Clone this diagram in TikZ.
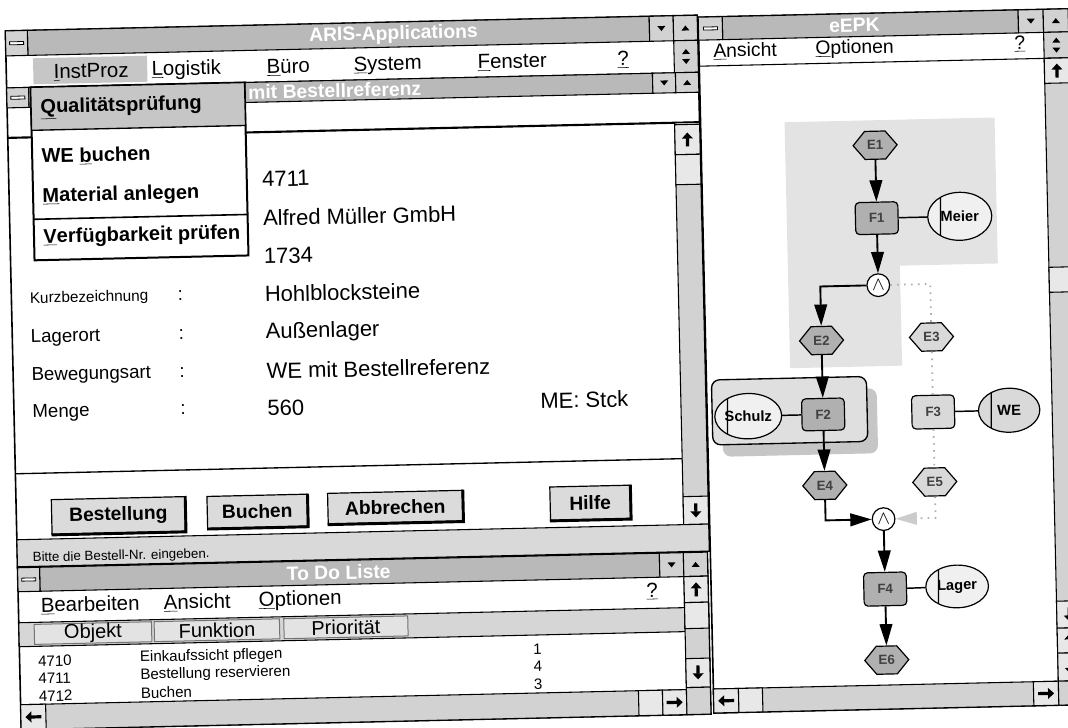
\documentclass[tikz,border=0pt]{standalone}
\usepackage{fontspec}
\setmainfont{Liberation Sans}
\usetikzlibrary{arrows.meta,shapes.geometric,shapes.symbols}

\newcommand{\fsz}[1]{\fontsize{#1}{#1}\selectfont}
\newcommand{\mn}[1]{\underline{#1}}
% small window-button glyphs
\newcommand{\tridown}[2]{\fill (#1-4,#2-2.5) -- (#1+4,#2-2.5) -- (#1,#2+2.5) -- cycle;}
\newcommand{\triup}[2]{\fill (#1-4,#2+2.5) -- (#1+4,#2+2.5) -- (#1,#2-2.5) -- cycle;}
\newcommand{\sysdash}[2]{\draw[fill=white,line width=0.6pt] (#1-7,#2-1.5) rectangle (#1+7,#2+1.5);}
\newcommand{\scrup}[2]{\draw[sarrow] (#1,#2+7) -- (#1,#2-7);}
\newcommand{\scrdown}[2]{\draw[sarrow] (#1,#2-7) -- (#1,#2+7);}
\newcommand{\scrleft}[2]{\draw[sarrow] (#1+8,#2) -- (#1-8,#2);}
\newcommand{\scrright}[2]{\draw[sarrow] (#1-8,#2) -- (#1+8,#2);}

\tikzset{every picture/.style={line width=0.75pt}}
\tikzset{
  win/.style={draw, line width=1.2pt, fill=white},
  titlebar/.style={draw, line width=0.8pt, fill=gray!55},
  chromebox/.style={draw, line width=0.8pt, fill=gray!35},
  wtext/.style={text=white, font=\bfseries\fsz{14.5}, inner sep=0pt},
  menuitem/.style={font=\fsz{15.3}, inner sep=0pt, anchor=west},
  popitem/.style={font=\bfseries\fsz{15}, inner sep=0pt, anchor=west},
  fieldlbl/.style={font=\fsz{14}, inner sep=0pt, anchor=west},
  fieldval/.style={font=\fsz{16.5}, inner sep=0pt, anchor=west},
  btn/.style={draw, line width=0.9pt, fill=gray!28, font=\bfseries\fsz{14.4}, inner sep=0pt},
  colhead/.style={draw=black!55, fill=gray!22, font=\fsz{15}, inner sep=0pt, minimum height=15pt},
  listrow/.style={font=\fsz{11.3}, inner sep=0pt, anchor=west},
  sarrow/.style={line width=2.4pt, -{Triangle[length=4.5pt,width=8pt]}},
  event/.style={signal, signal to=east and west, signal pointer angle=100, draw, line width=0.9pt,
    minimum width=33pt, minimum height=21pt, inner sep=0pt, font=\bfseries\fsz{10}, text=black!75},
  darkev/.style={event, fill=gray!62},
  lightev/.style={event, fill=gray!30},
  func/.style={draw, line width=0.9pt, rounded corners=3pt, minimum width=32pt, minimum height=24pt,
    inner sep=0pt, font=\bfseries\fsz{10}, text=black!75},
  orgunit/.style={ellipse, draw, line width=0.9pt, inner sep=0pt, font=\bfseries\fsz{11},
    path picture={\draw[line width=0.9pt] ([xshift=9.75pt]path picture bounding box.north west)
      -- ([xshift=9.75pt]path picture bounding box.south west);}},
  andop/.style={circle, draw, line width=0.9pt, fill=white, minimum size=17pt, inner sep=0pt, font=\fsz{14}},
  flow/.style={line width=1.4pt, -{Triangle[length=16pt,width=9.5pt]}},
  orgline/.style={line width=1.1pt},
  vague/.style={draw=gray!65, line width=1.3pt, dash pattern=on 1.2pt off 4pt},
}

\begin{document}
\begin{tikzpicture}[x=0.75pt,y=0.75pt,yscale=-1,xscale=1]
\useasboundingbox (0,0) rectangle (1068,728);
\begin{scope}[rotate around={-1.3:(534,364)}, every node/.append style={rotate=1.3}]

%Window: ARIS-Applications
\draw[win] (13,19) rectangle (705,555);
\draw[titlebar] (35,19) rectangle (657,44);
\draw[chromebox] (13,19) rectangle (35,44); \sysdash{24}{31.5}
\draw[chromebox] (657,19) rectangle (681,44); \tridown{669}{31.5}
\draw[chromebox] (681,19) rectangle (705,44); \triup{693}{31.5}
\node[wtext] (arisTitle) at (401,31.5) {ARIS-Applications};
% menu bar
\draw[chromebox] (681,44) rectangle (705,76); \triup{693}{55} \tridown{693}{65}
\draw[line width=0.8pt] (13,76) -- (681,76);
\fill[gray!45] (40,47) rectangle (154,73);
\node[menuitem] (mInst) at (60,62) {\mn{I}nstProz};
\node[menuitem] (mLog) at (158,62) {\mn{L}ogistik};
\node[menuitem] (mBuero) at (273,62) {\mn{B}üro};
\node[menuitem] (mSys) at (360,62) {\mn{S}ystem};
\node[menuitem] (mFen) at (484,62) {\mn{F}enster};
\node[menuitem, anchor=center] (mHelp) at (630,62) {\mn{?}};
% inner window title
\draw[chromebox] (13,76) rectangle (35,96); \sysdash{24}{86}
\draw[titlebar] (35,76) rectangle (659,96);
\draw[chromebox] (659,76) rectangle (682,96); \tridown{670.5}{86}
\draw[chromebox] (682,76) rectangle (705,96); \triup{693.5}{86}
\node[wtext, anchor=west] (subTitle) at (254,86) {mit Bestellreferenz};
\draw[line width=1.6pt] (13,126) -- (705,126);
% scrollbar
\draw[chromebox] (680,126) rectangle (705,528);
\draw[chromebox, fill=gray!18] (680,128) rectangle (705,158); \scrup{692.5}{143}
\draw[chromebox, fill=gray!18] (680,158) rectangle (705,188);
\draw[chromebox, fill=gray!18] (680,500) rectangle (705,528); \scrdown{692.5}{514}
\draw[line width=1pt] (13,462) -- (680,462);

% Text Node: fields
\node[fieldval] (vNr) at (266,173) {4711};
\node[fieldval] (vLief) at (266,212) {Alfred Müller GmbH};
\node[fieldval] (vMat) at (266,250) {1734};
\node[fieldlbl, font=\fsz{11.5}] (lKurz) at (31,288) {Kurzbezeichnung};
\node[fieldlbl] (cKurz) at (179,288) {:};
\node[fieldval] (vKurz) at (266,288) {Hohlblocksteine};
\node[fieldlbl] (lLager) at (31,327) {Lagerort};
\node[fieldlbl] (cLager) at (179,327) {:};
\node[fieldval] (vLager) at (266,327) {Außenlager};
\node[fieldlbl] (lBew) at (31,365) {Bewegungsart};
\node[fieldlbl] (cBew) at (179,365) {:};
\node[fieldval] (vBew) at (266,365) {WE mit Bestellreferenz};
\node[fieldlbl] (lMenge) at (31,402) {Menge};
\node[fieldlbl] (cMenge) at (179,402) {:};
\node[fieldval] (vMenge) at (266,402) {560};
\node[fieldval] (vME) at (539,401) {ME: Stck};

% buttons
\node[btn, minimum width=100pt, minimum height=26pt] (bBest) at (115,506) {Bestellung};
\node[btn, minimum width=75pt, minimum height=24pt] (bBuch) at (254,505) {Buchen};
\node[btn, minimum width=101pt, minimum height=23pt] (bAbbr) at (392,504) {Abbrechen};
\node[btn, minimum width=60pt, minimum height=25pt] (bHilfe) at (587,504) {Hilfe};
\foreach \b in {bBest,bBuch,bAbbr,bHilfe}
  \draw[line width=2.2pt] (\b.south west) -- (\b.south east) -- (\b.north east);

% status bar
\draw[chromebox, fill=gray!30] (13,528) rectangle (705,555);
\node[font=\fsz{10}, inner sep=0pt, anchor=west] (status) at (28,547) {Bitte die Bestell-Nr. eingeben.};

% pull-down menu
\draw[line width=1.5pt, fill=white] (37,76) rectangle (251,249);
\draw[line width=1pt, fill=gray!45] (37,76) rectangle (251,119);
\draw[line width=1.2pt] (37,208) -- (251,208);
\node[popitem] (pQual) at (46,98) {\mn{Q}ualitätsprüfung};
\node[popitem] (pWE) at (46,146) {WE \mn{b}uchen};
\node[popitem] (pMat) at (46,186) {\mn{M}aterial anlegen};
\node[popitem] (pVerf) at (46,227) {\mn{V}erfügbarkeit prüfen};

%Window: To Do Liste
\draw[win] (13,556) rectangle (703,718);
\draw[titlebar] (35,556) rectangle (655,580);
\draw[chromebox] (13,556) rectangle (35,580); \sysdash{24}{568}
\draw[chromebox] (655,556) rectangle (679,580); \tridown{667}{568}
\draw[chromebox] (679,556) rectangle (703,580); \triup{691}{568}
\node[wtext] (todoTitle) at (334,568) {To Do Liste};
\node[menuitem] (tBearb) at (35,595) {\mn{B}earbeiten};
\node[menuitem] (tAns) at (158,595) {\mn{A}nsicht};
\node[menuitem] (tOpt) at (253,595) {\mn{O}ptionen};
\node[menuitem, anchor=center] (tHelp) at (647,594) {\mn{?}};
\draw[chromebox, fill=gray!32] (13,611) rectangle (679,635);
\node[colhead, minimum width=88pt] (hObj) at (87,623) {Objekt};
\node[colhead, minimum width=94pt] (hFunk) at (211,623) {Funktion};
\node[colhead, minimum width=93pt] (hPrio) at (340,623) {Priorität};
% list rows
\node[listrow] (o1) at (31,650) {4710};
\node[listrow] (f1) at (133,649) {Einkaufssicht pflegen};
\node[listrow, anchor=center] (p1) at (531,649) {1};
\node[listrow] (o2) at (31,667.5) {4711};
\node[listrow] (f2) at (133,666.5) {Bestellung reservieren};
\node[listrow, anchor=center] (p2) at (531,666.5) {4};
\node[listrow] (o3) at (31,685) {4712};
\node[listrow] (f3) at (133,684) {Buchen};
\node[listrow, anchor=center] (p3) at (531,684) {3};
% scrollbars
\draw[chromebox] (679,580) rectangle (703,691);
\draw[chromebox, fill=gray!18] (679,580) rectangle (703,606); \scrup{691}{593}
\draw[chromebox, fill=gray!18] (679,606) rectangle (703,632);
\draw[chromebox, fill=gray!18] (679,662) rectangle (703,691); \scrdown{691}{676}
\draw[chromebox] (13,693) rectangle (679,718);
\draw[chromebox, fill=gray!18] (13,693) rectangle (38,718); \scrleft{25.5}{705.5}
\draw[chromebox, fill=gray!18] (631,693) rectangle (655,718);
\draw[chromebox, fill=gray!18] (655,693) rectangle (679,718); \scrright{667}{705.5}
\draw[chromebox] (679,691) rectangle (703,718);

%Window: eEPK
\draw[win] (706,21) rectangle (1076,717);
\draw[titlebar] (730,21) rectangle (1026,44);
\draw[chromebox] (706,21) rectangle (730,44); \sysdash{718}{32.5}
\draw[chromebox] (1026,21) rectangle (1051,44); \tridown{1038.5}{32.5}
\draw[chromebox] (1051,21) rectangle (1076,44); \triup{1063.5}{32.5}
\node[wtext] (epkTitle) at (862,32.5) {eEPK};
\draw[chromebox] (1051,44) rectangle (1076,70); \triup{1063.5}{52} \tridown{1063.5}{62}
\draw[line width=0.8pt] (706,70) -- (1051,70);
\node[menuitem, font=\fsz{14.5}] (eAns) at (720,56) {\mn{A}nsicht};
\node[menuitem, font=\fsz{14.5}] (eOpt) at (822,56) {\mn{O}ptionen};
\node[menuitem, font=\fsz{14.5}, anchor=center] (eHelp) at (1027,55) {\mn{?}};
\draw[chromebox] (1051,70) rectangle (1076,693);
\draw[chromebox, fill=gray!18] (1051,70) rectangle (1076,95); \scrup{1063.5}{82.5}
\draw[chromebox, fill=gray!18] (1051,279) rectangle (1076,304);
\draw[chromebox, fill=gray!18] (1051,613) rectangle (1076,640); \scrdown{1063.5}{626.5}
\draw[chromebox, fill=gray!18] (1051,640) rectangle (1076,665); \scrup{1063.5}{652.5}
\draw[chromebox, fill=gray!18] (1051,665) rectangle (1076,693); \scrdown{1063.5}{679}
\draw[chromebox] (706,693) rectangle (1051,717);
\draw[chromebox, fill=gray!18] (706,693) rectangle (731,717); \scrleft{718.5}{705}
\draw[chromebox, fill=gray!18] (731,693) rectangle (755,717);
\draw[chromebox, fill=gray!18] (1026,693) rectangle (1051,717); \scrright{1038.5}{705}
\draw[chromebox] (1051,693) rectangle (1076,717);

% process chain: selected area and group
\fill[gray!22] (790,128) -- (1000,128) -- (1000,274) -- (902,274) -- (902,374) -- (790,374) -- cycle;
\fill[gray!45, rounded corners=6] (721,396) rectangle (876,461);
\draw[fill=gray!25, line width=1pt, rounded corners=6] (711,384) rectangle (866,449);

% process chain: nodes
\node[darkev] (E1) at (880,153) {E1};
\node[func, fill=gray!62] (F1) at (880,226) {F1};
\node[orgunit, fill=gray!12, minimum width=48pt, minimum height=36pt] (Meier) at (963,226) {Meier};
\node[andop] (AND1) at (880,293) {$\wedge$};
\node[darkev] (E2) at (822,347) {E2};
\node[lightev] (E3) at (932,346) {E3};
\node[orgunit, fill=gray!12, minimum width=46pt, minimum height=34pt] (Schulz) at (747,421) {Schulz};
\node[func, fill=gray!62] (F2) at (822,421) {F2};
\node[func, fill=gray!30, minimum height=25pt] (F3) at (932,421) {F3};
\node[orgunit, fill=gray!30, minimum width=46pt, minimum height=33pt] (WE) at (1008,421) {WE};
\node[darkev] (E4) at (822,492) {E4};
\node[lightev] (E5) at (932,491) {E5};
\node[andop] (AND2) at (880,527) {$\wedge$};
\node[func, fill=gray!62, minimum height=25pt] (F4) at (880,597) {F4};
\node[orgunit, fill=gray!12, minimum width=47pt, minimum height=32pt] (Lager) at (952,596) {Lager};
\node[darkev] (E6) at (880,668) {E6};

% process chain: connections
\draw[flow] (E1) -- (F1);
\draw[flow] (F1) -- (AND1);
\draw[flow] (AND1) -| (E2);
\draw[flow] (E2) -- (F2);
\draw[flow] (F2) -- (E4);
\draw[flow] (E4) |- (AND2);
\draw[flow] (AND2) -- (F4);
\draw[flow] (F4) -- (E6);
\draw[orgline] (F1) -- (Meier);
\draw[orgline] (Schulz) -- (F2);
\draw[orgline] (F3) -- (WE);
\draw[orgline] (F4) -- (Lager);
\draw[vague] (AND1) -| (E3);
\draw[vague] (E3) -- (F3);
\draw[vague] (F3) -- (E5);
\draw[vague, -{Triangle[length=16pt,width=9.5pt,fill=gray!40,color=gray!40]}] (E5) |- (AND2);

\end{scope}
\end{tikzpicture}
\end{document}
